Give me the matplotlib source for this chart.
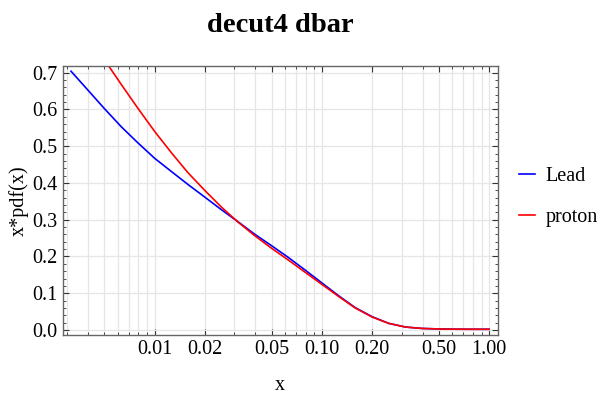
import numpy as np
import matplotlib.pyplot as plt
from matplotlib.ticker import FixedLocator, LogLocator, MultipleLocator, NullFormatter

plt.rcParams['font.family'] = ['Liberation Serif', 'DejaVu Serif']

# x*pdf(x) for dbar, decut4 set, sampled at 10 points per decade
x = [0.00316, 0.00398, 0.00501, 0.00631, 0.00794, 0.01, 0.0126, 0.0158, 0.02,
     0.0251, 0.0316, 0.0398, 0.0501, 0.0631, 0.0794, 0.1, 0.126, 0.158, 0.2,
     0.251, 0.316, 0.398, 0.501, 0.631, 0.794, 1.0]
y_lead = [0.704, 0.653, 0.602, 0.553, 0.509, 0.467, 0.431, 0.396, 0.361,
          0.327, 0.294, 0.260, 0.229, 0.197, 0.163, 0.128, 0.093, 0.061, 0.036,
          0.018, 0.008, 0.0042, 0.0028, 0.0022, 0.002, 0.002]
y_proton = [0.87, 0.80, 0.735, 0.668, 0.603, 0.540, 0.482, 0.428, 0.379,
            0.334, 0.293, 0.256, 0.222, 0.190, 0.157, 0.124, 0.091, 0.060, 0.035,
            0.018, 0.008, 0.0042, 0.0028, 0.0022, 0.002, 0.002]

xticks = [0.01, 0.02, 0.05, 0.1, 0.2, 0.5, 1.0]
xticklabels = ['0.01', '0.02', '0.05', '0.10', '0.20', '0.50', '1.00']

fig = plt.figure(figsize=(6.06, 3.93), dpi=100)
ax = fig.add_axes([0.1035, 0.1476, 0.7175, 0.6852])

ax.plot(x, y_lead, color='#0000ff', lw=1.2, label='Lead')
ax.plot(x, y_proton, color='#ff0000', lw=1.2, label='proton')

ax.set_xscale('log')
lo, hi = -2.5, 0.0
pad = 0.02 * (hi - lo)
ax.set_xlim(10 ** (lo - pad), 10 ** (hi + pad))
ax.set_ylim(-0.0136, 0.719)

ax.xaxis.set_major_locator(FixedLocator(xticks))
ax.set_xticklabels(xticklabels)
ax.xaxis.set_minor_locator(LogLocator(base=10, subs=np.arange(1, 10)))
ax.xaxis.set_minor_formatter(NullFormatter())
ax.yaxis.set_major_locator(MultipleLocator(0.1))
ax.yaxis.set_minor_locator(MultipleLocator(0.02))
ax.yaxis.set_major_formatter(plt.FuncFormatter(lambda v, p: f'{v:.1f}'))

ax.tick_params(which='both', direction='in', top=True, right=True,
               labelsize=14.5, color='#333333')
ax.tick_params(which='major', length=4, width=0.8)
ax.tick_params(which='minor', length=2, width=0.6)

ax.grid(True, which='both', axis='x', color='#e6e6e6', lw=0.9)
ax.grid(True, which='major', axis='y', color='#e6e6e6', lw=0.9)
ax.set_axisbelow(True)
for s in ax.spines.values():
    s.set_color('#666666')
    s.set_linewidth(1.0)

ax.set_xlabel('x', fontsize=14.5, labelpad=12)
ax.set_ylabel('x*pdf(x)', fontsize=14.5, labelpad=3)
ax.set_title('decut4 dbar', fontsize=20.5, fontweight='bold', pad=24)

ax.legend(loc='center left', bbox_to_anchor=(1.008, 0.513), frameon=False,
          handlelength=0.8, handletextpad=0.5, labelspacing=1.1, fontsize=14.5)

fig.savefig('out.png', dpi=100)
